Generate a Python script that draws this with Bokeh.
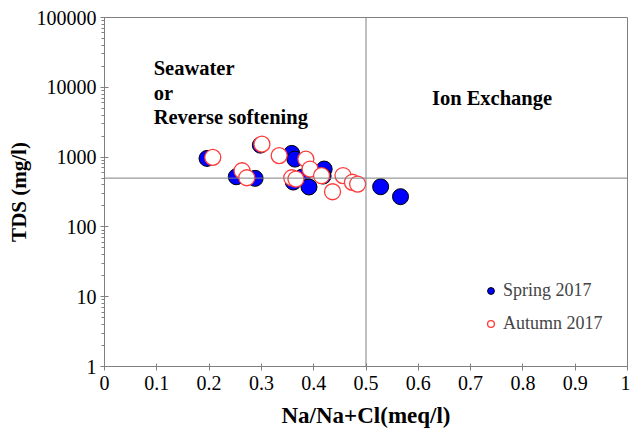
from bokeh.plotting import figure
from bokeh.models import (Span, Label, Legend, LegendItem, FixedTicker,
                          CustomJSTickFormatter, Range1d)
from bokeh.embed import file_html
from bokeh.resources import INLINE

# Data
spring_x = [0.196, 0.298, 0.252, 0.288, 0.358, 0.364, 0.361, 0.378, 0.391, 0.420, 0.418, 0.528, 0.566]
spring_tds = [958, 1484, 523, 496, 1130, 936, 439, 518, 373, 674, 535, 376, 271]
autumn_x = [0.207, 0.301, 0.263, 0.272, 0.334, 0.385, 0.393, 0.358, 0.366, 0.415, 0.436, 0.456, 0.474, 0.484]
autumn_tds = [990, 1534, 637, 506, 1050, 936, 674, 506, 485, 541, 319, 544, 436, 411]

x_ticks = [0, 0.1, 0.2, 0.3, 0.4, 0.5, 0.6, 0.7, 0.8, 0.9, 1.0]
y_ticks = [1, 10, 100, 1000, 10000, 100000]
y_minor = [m * d for d in [1, 10, 100, 1000, 10000] for m in range(2, 10)]
tds_limit = 500
ratio_limit = 0.5

FONT = "Liberation Serif"
GRAY = "#808080"

p = figure(width=630, height=430, output_backend="svg", toolbar_location=None,
           y_axis_type="log", x_range=Range1d(0, 1), y_range=Range1d(1, 100000),
           min_border_left=104, min_border_right=3, min_border_top=17, min_border_bottom=63)
p.grid.visible = False
p.outline_line_color = GRAY
p.outline_line_width = 1
p.background_fill_color = "white"
p.border_fill_color = "white"

# axes
p.xaxis.ticker = FixedTicker(ticks=x_ticks, minor_ticks=[])
p.xaxis.formatter = CustomJSTickFormatter(code="return Number(tick.toFixed(1)).toString();")
p.yaxis.ticker = FixedTicker(ticks=y_ticks, minor_ticks=y_minor)
p.yaxis.formatter = CustomJSTickFormatter(code="return Math.round(tick).toString();")
for ax in (p.xaxis, p.yaxis):
    ax.axis_line_color = GRAY
    ax.major_tick_line_color = GRAY
    ax.minor_tick_line_color = GRAY
    ax.major_label_text_font = FONT
    ax.major_label_text_font_size = "20px"
    ax.major_label_text_color = "black"
    ax.axis_label_text_font = FONT
    ax.axis_label_text_font_style = "bold"
    ax.axis_label_text_color = "black"
p.xaxis.axis_label_text_font_size = "23px"
p.yaxis.axis_label_text_font_size = "21px"
p.xaxis.major_tick_in = 3
p.xaxis.major_tick_out = 4
p.yaxis.major_tick_in = 4
p.yaxis.major_tick_out = 4
p.yaxis.minor_tick_in = 0
p.yaxis.minor_tick_out = 3
p.xaxis.major_label_standoff = 5
p.yaxis.major_label_standoff = 4
p.xaxis.axis_label = "Na/Na+Cl(meq/l)"
p.yaxis.axis_label = "TDS (mg/l)"
p.xaxis.axis_label_standoff = 10
p.yaxis.axis_label_standoff = 3

# divider lines
p.add_layout(Span(location=tds_limit, dimension="width", line_color=GRAY, line_width=1))
p.add_layout(Span(location=ratio_limit, dimension="height", line_color=GRAY, line_width=1))

# points
r1 = p.scatter(spring_x, spring_tds, size=16, marker="circle", fill_color="#0000ff",
               line_color="black", line_width=1)
r2 = p.scatter(autumn_x, autumn_tds, size=16, marker="circle", fill_color="white",
               line_color="#ff3b3b", line_width=1.3)

# annotations
for txt, yy in [("Seawater", 10 ** 4.27), ("or", 10 ** 3.92), ("Reverse softening", 10 ** 3.57)]:
    p.add_layout(Label(x=0.094, y=yy, text=txt, text_font=FONT, text_font_style="bold",
                       text_font_size="20.5px", text_baseline="middle", text_color="black"))
p.add_layout(Label(x=0.626, y=10 ** 3.84, text="Ion Exchange", text_font=FONT,
                   text_font_style="bold", text_font_size="20.5px", text_baseline="middle",
                   text_color="black"))

legend = Legend(items=[LegendItem(label="Spring 2017", renderers=[r1]),
                       LegendItem(label="Autumn 2017", renderers=[r2])],
                location=(378, 32), padding=0, margin=0, spacing=12,
                label_text_font=FONT, label_text_font_size="18px",
                glyph_width=17, glyph_height=17, label_standoff=4, label_height=21,
                border_line_color=None, background_fill_alpha=0)
p.add_layout(legend)

open("out.html", "w").write(file_html(p, INLINE))
